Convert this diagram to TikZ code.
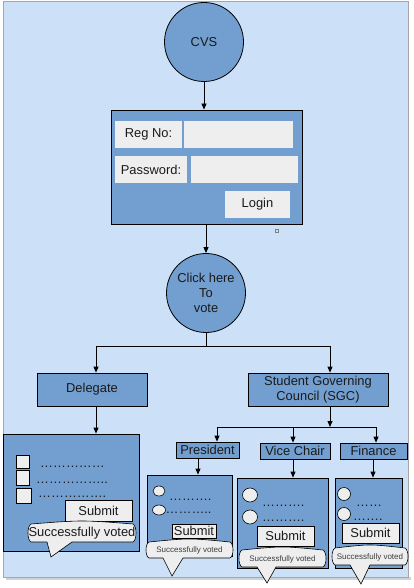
\documentclass[tikz,border=0pt]{standalone}
\usepackage{fontspec}
\setmainfont{Liberation Sans}
\usetikzlibrary{arrows.meta,calc,shapes.geometric}
\definecolor{bgblue}{HTML}{CCE1F7}
\definecolor{boxblue}{HTML}{729FCF}
\definecolor{field}{HTML}{EEEEEE}
\definecolor{ink}{HTML}{1A1A1A}
\tikzset{
  every node/.style={font=\fontsize{12.9}{14.8}\selectfont, text=ink},
  bluebox/.style={draw=black, line width=0.8pt, fill=boxblue, inner sep=0pt, align=center},
  fieldbox/.style={fill=field, inner sep=0pt},
  btn/.style={draw=black, line width=0.6pt, fill=field, inner sep=0pt},
  bluecirc/.style={circle, draw=black, line width=0.8pt, fill=boxblue, inner sep=0pt, align=center, minimum size=79pt},
  conn/.style={line width=0.8pt, draw=black},
  arr/.style={conn, -{Triangle[length=6pt,width=5pt]}},
  dotsline/.style={anchor=base west, inner sep=0pt},
  radio/.style={ellipse, draw=black, fill=field, line width=0.6pt, inner sep=0pt},
  checkbox/.style={draw=black, fill=field, line width=0.6pt, inner sep=0pt},
  bubble/.style={draw=black, fill=field, line width=0.6pt},
  smalltext/.style={font=\fontsize{8}{9}\selectfont, text=ink!85}
}
\newcommand{\svcallout}[8]{%
  \draw[bubble] (#1+2,#2) .. controls ({(#1+#3)/2},#2-4) .. (#3-2,#2)
    .. controls (#3+2,#2+2) and (#3+2,#4-2) .. (#3-2,#4)
    -- (#6,#4) -- (#7,#8) -- (#5,#4) -- (#1+2,#4)
    .. controls (#1-2,#4-2) and (#1-2,#2+2) .. cycle;}
\begin{document}
\begin{tikzpicture}[x=1pt,y=-1pt]
\useasboundingbox (0,0) rectangle (413,588);
\fill[white] (0,0) rectangle (413,588);
\fill[gray!35] (6,577) rectangle (411,580);
\fill[bgblue] (3,1) rectangle (408,577);
\draw[gray!70, line width=0.6pt] (3,1) rectangle (408,577);

% top
\node[bluecirc] (cvs) at (204,42) {CVS};
\node[bluebox, minimum width=191pt, minimum height=114pt] (login) at (206.5,167) {};
\node[fieldbox, minimum width=67pt, minimum height=27pt] (regl) at (148.5,134.5) {Reg No:};
\node[fieldbox, minimum width=109pt, minimum height=27pt] (regi) at (238.5,134.5) {};
\node[fieldbox, minimum width=72pt, minimum height=27pt] (pwl) at (151,169.5) {Password:};
\node[fieldbox, minimum width=107pt, minimum height=27pt] (pwi) at (244.5,169.5) {};
\node[fieldbox, minimum width=65pt, minimum height=27pt] (loginb) at (257.5,204.5) {Login};
\node[draw=gray, line width=0.4pt, minimum size=3pt, inner sep=0pt] (mark) at (277,231) {};

\node[bluecirc] (click) at (206,293) {Click here\\To\\vote};

\draw[arr] (cvs.south) -- (cvs.south |- login.north);
\draw[arr] (click.north |- login.south) -- (click.north);

% split
\node[bluebox, minimum width=110pt, minimum height=33pt] (delegate) at (92,389.5) {Delegate};
\node[bluebox, minimum width=140pt, minimum height=33pt] (sgc) at (318,389.5) {Student Governing\\Council (SGC)};
\coordinate (split) at (206,346);
\coordinate (sl) at (96,346);
\coordinate (sr) at (330,346);
\draw[conn] (click.south) -- (split);
\draw[conn] (sl) -- (sr);
\draw[arr] (sl) -- (sl |- delegate.north);
\draw[arr] (sr) -- (sr |- sgc.north);

% delegate panel
\node[bluebox, minimum width=136pt, minimum height=117pt] (dpanel) at (71,492.5) {};
\draw[arr] (sl |- delegate.south) -- (sl |- dpanel.north);
\node[checkbox, minimum width=13pt, minimum height=13pt] (c1) at (22.5,461.5) {};
\node[checkbox, minimum width=13pt, minimum height=15pt] (c2) at (22.5,477.5) {};
\node[checkbox, minimum width=15pt, minimum height=15pt] (c3) at (23.5,495.5) {};
\node[dotsline] (d1) at (40,467) {……………};
\node[dotsline] (d2) at (36,483) {……………..};
\node[dotsline] (d3) at (38,497) {…………….};
\node[btn, minimum width=67pt, minimum height=21pt] (dsub) at (98.5,510.5) {Submit};
\svcallout{29}{524}{135}{542}{47}{72}{51}{557}
\node[inner sep=0pt] (dok) at (82,533) {Successfully voted};

% SGC branch
\node[bluebox, minimum width=63pt, minimum height=16pt] (pres) at (207.5,450) {President};
\node[bluebox, minimum width=70pt, minimum height=16pt] (vice) at (295,451) {Vice Chair};
\node[bluebox, minimum width=67pt, minimum height=16pt] (fin) at (373.5,451) {Finance};
\coordinate (sd) at (330,427);
\coordinate (pl) at (217,427);
\coordinate (vl) at (293,427);
\coordinate (fl) at (376,427);
\draw[arr] (sd |- sgc.south) -- (sd);
\draw[conn] (pl) -- (fl);
\draw[arr] (pl) -- (pl |- pres.north);
\draw[arr] (vl) -- (vl |- vice.north);
\draw[arr] (fl) -- (fl |- fin.north);

% panels
\node[bluebox, minimum width=85pt, minimum height=81pt] (ppanel) at (189.5,515.5) {};
\node[bluebox, minimum width=91pt, minimum height=90pt] (vpanel) at (282.5,523) {};
\node[bluebox, minimum width=67pt, minimum height=90pt] (fpanel) at (368.5,523) {};
\coordinate (pa) at (198,0);
\coordinate (va) at (293,0);
\coordinate (fa) at (373,0);
\draw[arr] (pa |- pres.south) -- (pa |- ppanel.north);
\draw[arr] (va |- vice.south) -- (va |- vpanel.north);
\draw[arr] (fa |- fin.south) -- (fa |- fpanel.north);

% president panel
\node[radio, minimum width=12pt, minimum height=10pt] (pr1) at (159,491) {};
\node[radio, minimum width=13pt, minimum height=10pt] (pr2) at (159,510) {};
\node[dotsline] (pd1) at (169,500) {……….};
\node[dotsline] (pd2) at (165.5,513) {………..};
\node[btn, minimum width=44pt, minimum height=14pt] (psub) at (194,531) {Submit};
\svcallout{147}{542}{232}{558}{163}{183}{172}{576}
\node[smalltext, inner sep=0pt] (pok) at (189.5,550.5) {Successfully voted};

% vice chair panel
\node[radio, minimum width=15pt, minimum height=14pt] (vr1) at (250,495) {};
\node[radio, minimum width=15pt, minimum height=14pt] (vr2) at (250,517) {};
\node[dotsline] (vd1) at (262,506) {……….};
\node[dotsline] (vd2) at (262,521) {……….};
\node[btn, minimum width=57pt, minimum height=20pt] (vsub) at (285.5,536) {Submit};
\svcallout{240}{550}{325}{567}{257}{276}{267}{583}
\node[smalltext, inner sep=0pt] (vok) at (282.5,559) {Successfully voted};

% finance panel
\node[radio, minimum width=13pt, minimum height=13pt] (fr1) at (344,494) {};
\node[radio, minimum width=13pt, minimum height=13pt] (fr2) at (344,514) {};
\node[dotsline] (fd1) at (356,506) {……};
\node[dotsline] (fd2) at (353,520) {…….};
\node[btn, minimum width=57pt, minimum height=20pt] (fsub) at (370.5,533) {Submit};
\svcallout{333}{548}{407}{565}{350}{370}{361}{584}
\node[smalltext, inner sep=0pt] (fok) at (370,557) {Successfully voted};
\end{tikzpicture}
\end{document}
